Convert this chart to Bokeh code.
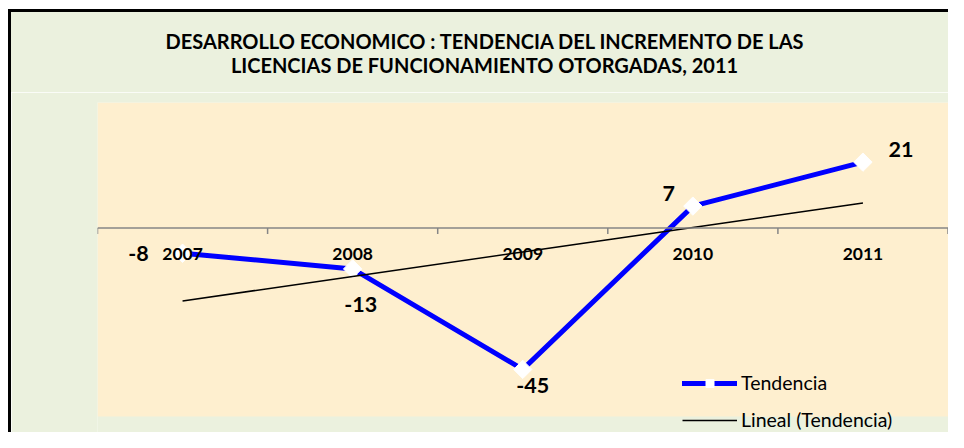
import numpy as np
from bokeh.plotting import figure
from bokeh.models import (Range1d, Span, Legend, LegendItem, ColumnDataSource, Spacer, Div,
                          BoxAnnotation)
from bokeh.layouts import column, row
from bokeh.core.properties import value
from bokeh.embed import file_html
from bokeh.resources import INLINE

# ---- data ----
categories = ["2007", "2008", "2009", "2010", "2011"]
tendencia = [-8, -13, -45, 7, 21]
title_lines = ["DESARROLLO ECONOMICO : TENDENCIA DEL INCREMENTO DE LAS",
               "LICENCIAS DE FUNCIONAMIENTO OTORGADAS, 2011"]
series_name = "Tendencia"
trend_name = "Lineal (Tendencia)"

# ---- styles (label offsets in screen px) ----
label_dx = [-44, 8, 10, -24, 38]
label_dy = [0, 36, 16, -13, -13]

FONT = "Lato"
BG = "#EBF1DE"
PLOT_BG = "#FEEFCF"
x = np.arange(1, len(categories) + 1)
slope, intercept = np.polyfit(x, tendencia, 1)
trend = slope * x + intercept

# value range of the plot area and its pixel extent
y_lo, y_hi = -60, 40
area_h = 314          # px height of the beige plot area
extra_below = 16      # px of figure below the plot area (room for legend)
px_per_unit = area_h / (y_hi - y_lo)
frame_w = 851
cat_px = 170.1
tick_len = 6 / px_per_unit

title_html = ('<div style="box-sizing:border-box; width:937px; margin:0; padding:17px 0 0 10px; '
              'text-align:center; font-family:Lato; font-weight:bold; font-size:20px; '
              'line-height:24px; color:black;">'
              + "<br>".join(title_lines) + '</div>')
title_div = Div(text=title_html, width=937, height=80, margin=0,
                styles={"background-color": BG, "margin": "0", "padding": "0"})

p = figure(width=937, height=340,
           x_range=Range1d(0.5, 0.5 + frame_w / cat_px),
           y_range=Range1d(y_lo - extra_below / px_per_unit, y_hi),
           x_axis_type=None, y_axis_type=None,
           output_backend="svg", toolbar_location=None,
           min_border_left=86, min_border_right=0, min_border_top=10, min_border_bottom=0,
           background_fill_color=BG, border_fill_color=BG,
           outline_line_color=None)

# beige plot area
p.add_layout(BoxAnnotation(bottom=y_lo, top=y_hi, fill_color=PLOT_BG, fill_alpha=1,
                           line_color=None, level="underlay"))

# category axis at y = 0
p.add_layout(Span(location=0, dimension="width", line_color="#868686", line_width=1.5))
bounds = np.arange(0.5, len(categories) + 1, 1.0)
p.segment(x0=bounds, x1=bounds, y0=np.zeros_like(bounds), y1=np.full_like(bounds, -tick_len),
          line_color="#868686", line_width=1.5)

src = ColumnDataSource(dict(x=x, y=tendencia, cat=categories,
                            lab=[str(v) for v in tendencia], dx=label_dx, dy=label_dy,
                            trend=trend))

r_line = p.line("x", "y", source=src, line_color="#0000FF", line_width=5,
                line_cap="round", line_join="round")
r_pts = p.scatter("x", "y", source=src, marker="square", angle=np.pi / 4, size=13,
                  fill_color="white", line_color="white")
r_trend = p.line("x", "trend", source=src, line_color="black", line_width=1.5)

p.text("x", 0, text="cat", source=src, y_offset=26, text_align="center",
       text_baseline="middle", text_font=value(FONT), text_font_style="bold",
       text_font_size="17.5px", text_color="black")
p.text("x", "y", text="lab", source=src, x_offset="dx", y_offset="dy", text_align="center",
       text_baseline="middle", text_font=value(FONT), text_font_style="bold",
       text_font_size="21.5px", text_color="black")

legend = Legend(items=[LegendItem(label=series_name, renderers=[r_line, r_pts]),
                       LegendItem(label=trend_name, renderers=[r_trend])],
                location=(585, 1), orientation="vertical",
                glyph_width=55, glyph_height=20, label_height=20, label_standoff=4,
                spacing=14, padding=0, margin=0,
                background_fill_alpha=0, border_line_color=None,
                label_text_font=FONT, label_text_font_size="19.5px", label_text_color="black")
p.add_layout(legend, "center")

black = {"background-color": "black"}
inner = column(title_div, p, spacing=0)
framed = column(Spacer(width=940, height=3, styles=black),
                row(Spacer(width=3, height=420, styles=black), inner, spacing=0), spacing=0)
layout = column(Spacer(width=948, height=9),
                row(Spacer(width=8, height=423), framed, spacing=0), spacing=0)

open("out.html", "w").write(file_html(layout, INLINE))
